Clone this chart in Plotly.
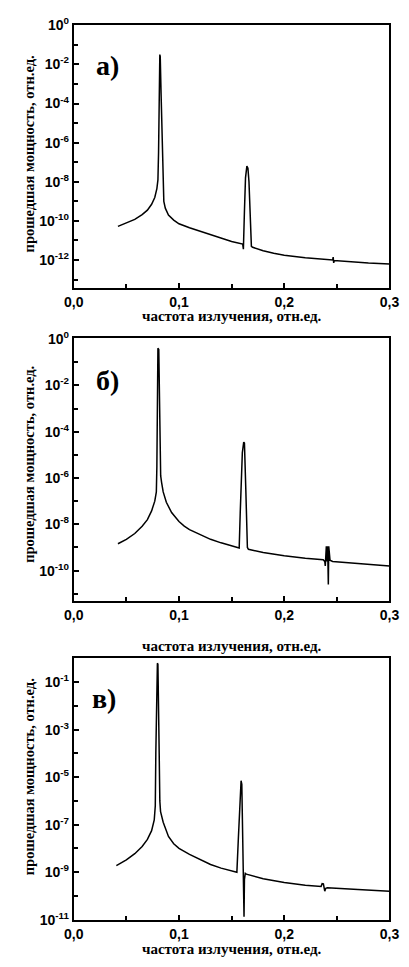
import plotly.graph_objects as go

W, H = 409, 967

# ---- data ----
freq_a = [0.0420, 0.0500, 0.0580, 0.0650, 0.0700, 0.0740, 0.0770, 0.0790, 0.0800, 0.0806,
          0.0812, 0.0818, 0.0822, 0.0830, 0.0840, 0.0850, 0.0856, 0.0870, 0.0900, 0.0950,
          0.1000, 0.1100, 0.1200, 0.1300, 0.1400, 0.1500, 0.1605, 0.1612, 0.1622, 0.1632,
          0.1645, 0.1655, 0.1665, 0.1675, 0.1688, 0.1700, 0.1800, 0.1900, 0.2000, 0.2200,
          0.2400, 0.2460, 0.2465, 0.2470, 0.2475, 0.2600, 0.2800, 0.3000]
power_a = [5.25e-11, 7.6e-11, 1.2e-10, 2.1e-10, 3.55e-10, 7.1e-10, 1.58e-9, 4.5e-9, 1.26e-8, 3.2e-7,
           6.3e-5, 3.2e-2, 2.5e-2, 3.2e-4, 1e-6, 5e-9, 1e-9, 4.5e-10, 2.0e-10, 1.1e-10,
           7.1e-11, 4.5e-11, 3.0e-11, 1.9e-11, 1.26e-11, 8.9e-12, 6.6e-12, 3.55e-12, 3.2e-10, 1.58e-8,
           6.3e-8, 5e-8, 1e-8, 3.2e-10, 5e-12, 4.5e-12, 3e-12, 2.24e-12, 1.78e-12, 1.32e-12,
           1.07e-12, 1e-12, 1.4e-12, 7.1e-13, 9.5e-13, 8.3e-13, 7.1e-13, 6.3e-13]

freq_b = [0.0420, 0.0500, 0.0580, 0.0650, 0.0700, 0.0740, 0.0770, 0.0785, 0.0790, 0.0795,
          0.0800, 0.0808, 0.0814, 0.0820, 0.0826, 0.0835, 0.0850, 0.0880, 0.0930, 0.1000,
          0.1050, 0.1100, 0.1200, 0.1300, 0.1400, 0.1500, 0.1572, 0.1582, 0.1592, 0.1602,
          0.1615, 0.1622, 0.1635, 0.1650, 0.1660, 0.1800, 0.2000, 0.2200, 0.2370, 0.2385,
          0.2390, 0.2395, 0.2400, 0.2405, 0.2410, 0.2415, 0.2419, 0.2423, 0.2428, 0.2435,
          0.2460, 0.2700, 0.3000]
power_b = [1.45e-9, 2.24e-9, 4e-9, 8.3e-9, 1.58e-8, 3.8e-8, 1e-7, 2.5e-7, 3.2e-6, 1e-3,
           0.4, 0.355, 1e-2, 3.2e-5, 1.26e-6, 6.3e-7, 2.5e-7, 8.9e-8, 3.2e-8, 1.32e-8,
           8.3e-9, 5.9e-9, 3.6e-9, 2.24e-9, 1.58e-9, 1.2e-9, 9.5e-10, 3.2e-8, 2e-6, 1.26e-5,
           3.55e-5, 3.2e-5, 3.2e-7, 1e-9, 8.3e-10, 6e-10, 4.4e-10, 3.4e-10, 2.95e-10, 2.5e-10,
           1.58e-10, 3.55e-10, 1.12e-9, 2.5e-10, 1.12e-9, 2.5e-10, 2.5e-11, 1.12e-9, 3.2e-10, 2.8e-10,
           2.5e-10, 2.1e-10, 1.58e-10]

freq_c = [0.0405, 0.0500, 0.0580, 0.0650, 0.0700, 0.0740, 0.0765, 0.0775, 0.0780, 0.0788,
          0.0795, 0.0800, 0.0806, 0.0812, 0.0818, 0.0825, 0.0850, 0.0900, 0.0950, 0.1000,
          0.1100, 0.1200, 0.1300, 0.1400, 0.1550, 0.1565, 0.1580, 0.1590, 0.1597, 0.1605,
          0.1614, 0.1618, 0.1622, 0.1630, 0.1640, 0.1800, 0.2000, 0.2200, 0.2350, 0.2360,
          0.2372, 0.2385, 0.2395, 0.2410, 0.2700, 0.3000]
power_c = [1.9e-9, 3.3e-9, 6e-9, 1.2e-8, 2.4e-8, 5.6e-8, 1.58e-7, 6.3e-7, 1e-4, 3.2e-2,
           0.63, 0.56, 2.5e-2, 1e-4, 1e-6, 3.55e-7, 1.26e-7, 3.2e-8, 1.58e-8, 1.0e-8,
           5.6e-9, 3.5e-9, 2.1e-9, 1.48e-9, 1e-9, 3.2e-8, 2.5e-6, 7.1e-6, 5e-6, 3.2e-8,
           1e-10, 1.32e-11, 5e-10, 8.9e-10, 8.3e-10, 5.25e-10, 3.7e-10, 2.8e-10, 2.5e-10, 3.3e-10,
           3.2e-10, 1.58e-10, 2.1e-10, 2.2e-10, 1.86e-10, 1.58e-10]

x_tickvals = [0.0, 0.1, 0.2, 0.3]
x_ticktext = ["0,0", "0,1", "0,2", "0,3"]
x_minor = [0.05, 0.15, 0.25]

exp_a_major = [0, -2, -4, -6, -8, -10, -12]
exp_a_minor = [-1, -3, -5, -7, -9, -11, -13]
exp_b_major = [0, -2, -4, -6, -8, -10]
exp_b_minor = [-1, -3, -5, -7, -9, -11]
exp_c_major = [-1, -3, -5, -7, -9, -11]
exp_c_minor = [0, -2, -4, -6, -8, -10]

panel_labels = ["а)", "б)", "в)"]
x_title = "частота излучения, отн.ед."
y_title = "прошедшая мощность, отн.ед."

# ---- layout geometry (pixels) ----
plot_left, plot_right = 67, 399
panels = [
    dict(top=16, bottom=284, yrange=[-13.43, 0.03], major=exp_a_major, minor=exp_a_minor,
         xtitle_y=313, ytitle_y=148, label_xy=(102, 58)),
    dict(top=335, bottom=603, yrange=[-11.33, 0.04], major=exp_b_major, minor=exp_b_minor,
         xtitle_y=648, ytitle_y=464, label_xy=(103, 378)),
    dict(top=661, bottom=927, yrange=[-11.0, 0.0], major=exp_c_major, minor=exp_c_minor,
         xtitle_y=957, ytitle_y=782, label_xy=(99, 702)),
]
series = [(freq_a, power_a), (freq_b, power_b), (freq_c, power_c)]

tick_font = dict(family="Liberation Sans, Arial", size=14, color="black", weight="bold")
xtitle_font = dict(family="Liberation Serif, Times New Roman", size=15, color="black", weight="bold")
ytitle_font = dict(family="Liberation Serif, Times New Roman", size=14.5, color="black", weight="bold")
label_font = dict(family="Liberation Serif, Times New Roman", size=28, color="black", weight="bold")

fig = go.Figure()
annotations = []
layout_axes = {}
for i, (p, (xs, ys)) in enumerate(zip(panels, series)):
    n = "" if i == 0 else str(i + 1)
    fig.add_trace(go.Scatter(x=xs, y=ys, mode="lines", line=dict(color="black", width=1.5),
                             xaxis="x" + n, yaxis="y" + n, showlegend=False, hoverinfo="skip"))
    layout_axes["xaxis" + n] = dict(
        domain=[plot_left / W, plot_right / W], anchor="y" + n, range=[0, 0.3],
        tickmode="array", tickvals=x_tickvals, ticktext=x_ticktext,
        ticks="inside", ticklen=5, tickwidth=1.5, tickcolor="black",
        minor=dict(tickmode="array", tickvals=x_minor, ticks="inside", ticklen=4,
                   tickwidth=1.5, tickcolor="black", showgrid=False),
        showline=True, mirror=True, linecolor="black", linewidth=2,
        showgrid=False, zeroline=False, tickfont=tick_font)
    layout_axes["yaxis" + n] = dict(
        domain=[1 - p["bottom"] / H, 1 - p["top"] / H], anchor="x" + n, type="log",
        range=p["yrange"], tickmode="array",
        tickvals=[10.0 ** e for e in p["major"]],
        ticktext=["10<sup>%d</sup>" % e for e in p["major"]],
        ticks="inside", ticklen=5, tickwidth=1.5, tickcolor="black",
        minor=dict(tickmode="array", tickvals=[10.0 ** e for e in p["minor"]], ticks="inside",
                   ticklen=4, tickwidth=1.5, tickcolor="black", showgrid=False),
        showline=True, mirror=True, linecolor="black", linewidth=2,
        showgrid=False, zeroline=False, tickfont=tick_font)
    annotations.append(dict(text=x_title, xref="paper", yref="paper",
                            x=(plot_left + plot_right) / 2 / W, y=1 - p["xtitle_y"] / H,
                            xanchor="center", yanchor="middle", showarrow=False, font=xtitle_font))
    annotations.append(dict(text=y_title, xref="paper", yref="paper", textangle=-90,
                            x=20 / W, y=1 - p["ytitle_y"] / H,
                            xanchor="center", yanchor="middle", showarrow=False, font=ytitle_font))
    annotations.append(dict(text=panel_labels[i], xref="paper", yref="paper",
                            x=p["label_xy"][0] / W, y=1 - p["label_xy"][1] / H,
                            xanchor="center", yanchor="middle", showarrow=False, font=label_font))

fig.update_layout(width=W, height=H, margin=dict(l=0, r=0, t=0, b=0),
                  paper_bgcolor="white", plot_bgcolor="white",
                  annotations=annotations, **layout_axes)
fig.write_html("out.html")
